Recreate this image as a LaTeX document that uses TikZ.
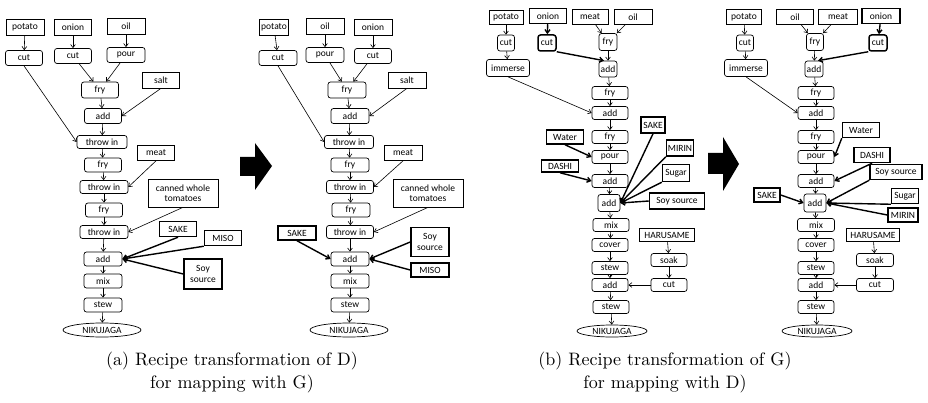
\documentclass[tikz,border=0pt]{standalone}
\usepackage{fontspec}
\newfontfamily\boxfont{Carlito}
\newfontfamily\capfont{lmroman10-regular}[Extension=.otf]
\usetikzlibrary{arrows.meta,shapes.geometric}
\begin{document}
\begin{tikzpicture}[x=1pt,y=-1pt,
 wh/.style 2 args={minimum width=#1pt,minimum height=#2pt},
 boxbase/.style={draw,line width=0.7pt,inner sep=0pt,font=\boxfont\fontsize{9.5}{10.5}\selectfont},
 ing/.style={boxbase},
 stp/.style={boxbase,rounded corners=2.5pt},
 bing/.style={boxbase,line width=1.5pt},
 bstp/.style={stp,line width=1.5pt},
 dish/.style={boxbase,ellipse},
 fb/.style={font=\boxfont\fontsize{10.5}{11}\selectfont},
 arr/.style={-{Straight Barb[length=3.2pt,width=4.8pt]},line width=0.6pt},
 barr/.style={-{Straight Barb[length=3.5pt,width=5pt]},line width=1.4pt},
 captxt/.style={font=\capfont\fontsize{18}{22}\selectfont,inner sep=0pt}
]
\useasboundingbox (0,0) rectangle (928,403);
%================ (a) ================
\node[ing,wh={38}{16}] (a1) at (25,27) {potato};
\node[ing,wh={37}{16}] (a2) at (73,27) {onion};
\node[ing,wh={38}{16}] (a3) at (126,26) {oil};
\node[stp,wh={37}{15}] (a4) at (24,58) {cut};
\node[stp,wh={37}{15}] (a5) at (73,56) {cut};
\node[stp,wh={38}{15}] (a6) at (126,55) {pour};
\node[stp,wh={37}{16}] (a7) at (100,90) {fry};
\node[ing,wh={37}{16}] (a8) at (161,80) {salt};
\node[stp,wh={37}{15}] (a9) at (103,116) {add};
\node[stp,wh={50}{13}] (a10) at (102,142) {throw in};
\node[ing,wh={37}{15}] (a11) at (156,153) {meat};
\node[stp,wh={37}{14}] (a12) at (103,165) {fry};
\node[stp,wh={48}{13}] (a13) at (104,187) {throw in};
\node[ing,wh={70}{28},align=center] (a14) at (183,193) {canned whole\\tomatoes};
\node[stp,wh={37}{14}] (a15) at (104,210) {fry};
\node[stp,wh={48}{13}] (a16) at (104,232) {throw in};
\node[bing,wh={37}{15}] (a17) at (178,229) {SAKE};
\node[bing,wh={37}{15}] (a18) at (223,238) {MISO};
\node[stp,wh={38}{14}] (a19) at (103,259) {add};
\node[bing,wh={38}{30},align=center] (a20) at (203,274) {Soy\\source};
\node[stp,wh={38}{14}] (a21) at (103,281) {mix};
\node[stp,wh={38}{14}] (a22) at (103,305) {stew};
\node[dish,wh={78}{14}] (a23) at (102,330) {NIKUJAGA};
\draw[arr] (a1)--(a4);
\draw[arr] (a2)--(a5);
\draw[arr] (a3)--(a6);
\draw[arr] (a5)--(a7);
\draw[arr] (a6)--(a7);
\draw[arr] (a7)--(a9);
\draw[arr] (a8.south)--(a9.east);
\draw[arr] (a9)--(a10);
\draw[arr] (a4.south)--(a10.west);
\draw[arr] (a10)--(a12);
\draw[arr] (a11.south)--(a13.east);
\draw[arr] (a12)--(a13);
\draw[arr] (a13)--(a15);
\draw[arr] (a15)--(a16);
\draw[arr] (a14.south)--(a16.east);
\draw[arr] (a16)--(a19);
\draw[arr] (a19)--(a21);
\draw[arr] (a21)--(a22);
\draw[arr] (a22)--(a23);
\draw[barr] (a17.south)--(a19.east);
\draw[barr] (a18.south west)--(a19.east);
\draw[barr] (a20.west)--(a19.east);
%================ (a') ================
\node[ing,wh={29}{16}] (b1) at (274,27) {potato};
\node[ing,wh={38}{16}] (b2) at (325,26) {oil};
\node[ing,wh={38}{16}] (b3) at (373,27) {onion};
\node[stp,wh={38}{15}] (b4) at (278,58) {cut};
\node[stp,wh={38}{15}] (b5) at (325,55) {pour};
\node[stp,wh={37}{15}] (b6) at (373,56) {cut};
\node[stp,wh={38}{16}] (b7) at (347,90) {fry};
\node[ing,wh={38}{16}] (b8) at (407,80) {salt};
\node[stp,wh={38}{15}] (b9) at (350,116) {add};
\node[stp,wh={49}{13}] (b10) at (349,142) {throw in};
\node[ing,wh={38}{15}] (b11) at (403,153) {meat};
\node[stp,wh={38}{14}] (b12) at (350,165) {fry};
\node[stp,wh={47}{13}] (b13) at (350,187) {throw in};
\node[ing,wh={70}{28},align=center] (b14) at (428,193) {canned whole\\tomatoes};
\node[stp,wh={38}{14}] (b15) at (351,210) {fry};
\node[stp,wh={47}{13}] (b16) at (350,232) {throw in};
\node[bing,wh={38}{14}] (b17) at (297,233) {SAKE};
\node[bing,wh={38}{29},align=center] (b18) at (430,242) {Soy\\source};
\node[bing,wh={38}{14}] (b19) at (430,270) {MISO};
\node[stp,wh={38}{14}] (b20) at (350,259) {add};
\node[stp,wh={38}{14}] (b21) at (350,281) {mix};
\node[stp,wh={38}{14}] (b22) at (350,305) {stew};
\node[dish,wh={78}{14}] (b23) at (349,330) {NIKUJAGA};
\draw[arr] (b1)--(b4);
\draw[arr] (b2)--(b5);
\draw[arr] (b3)--(b6);
\draw[arr] (b5)--(b7);
\draw[arr] (b6)--(b7);
\draw[arr] (b7)--(b9);
\draw[arr] (b8.south)--(b9.east);
\draw[arr] (b9)--(b10);
\draw[arr] (b4.south)--(b10.west);
\draw[arr] (b10)--(b12);
\draw[arr] (b11.south)--(b13.east);
\draw[arr] (b12)--(b13);
\draw[arr] (b13)--(b15);
\draw[arr] (b15)--(b16);
\draw[arr] (b14.south)--(b16.east);
\draw[arr] (b16)--(b20);
\draw[arr] (b20)--(b21);
\draw[arr] (b21)--(b22);
\draw[arr] (b22)--(b23);
\draw[barr] (b17.south)--(b20.west);
\draw[barr] (b18.west)--(b20.east);
\draw[barr] (b19.west)--(b20.east);
%================ big arrows ================
\fill[black] (240,157) -- (255,157) -- (255,143) -- (272,166) -- (255,190) -- (255,176) -- (240,176) -- cycle;
\fill[black] (708,153) -- (723,153) -- (723,137) -- (739,164) -- (723,191) -- (723,174) -- (708,174) -- cycle;
%================ (b) ================
\begin{scope}[every node/.append style={fb}]
\node[ing,wh={34}{14}] (c1) at (506,17) {potato};
\node[bing,wh={37}{15}] (c2) at (548,16) {onion};
\node[ing,wh={36}{15}] (c3) at (590,17) {meat};
\node[ing,wh={38}{15}] (c4) at (633,17) {oil};
\node[stp,wh={17}{16}] (c5) at (506,43) {cut};
\node[bstp,wh={18}{16}] (c6) at (547,43) {cut};
\node[stp,wh={18}{17}] (c7) at (608,42) {fry};
\node[stp,wh={43}{17}] (c8) at (508,68) {immerse};
\node[stp,wh={18}{16}] (c9) at (608,69) {add};
\node[stp,wh={36}{13}] (c10) at (610,93) {fry};
\node[stp,wh={36}{13}] (c11) at (610,113) {add};
\node[bing,wh={24}{16}] (c12) at (653,125) {SAKE};
\node[bing,wh={37}{14}] (c13) at (565,137) {Water};
\node[stp,wh={36}{13}] (c14) at (610,137) {fry};
\node[bing,wh={27}{16}] (c15) at (680,148) {MIRIN};
\node[stp,wh={36}{13}] (c16) at (610,157) {pour};
\node[bing,wh={37}{12}] (c17) at (560,166) {DASHI};
\node[bing,wh={27}{17}] (c18) at (676,173) {Sugar};
\node[stp,wh={36}{13}] (c19) at (610,181) {add};
\node[stp,wh={22}{17}] (c20) at (609,203) {add};
\node[bing,wh={55}{16}] (c21) at (677,201) {Soy source};
\node[stp,wh={36}{13}] (c22) at (611,225) {mix};
\node[stp,wh={36}{13}] (c23) at (610,245) {cover};
\node[ing,wh={55}{13}] (c24) at (667,235) {HARUSAME};
\node[stp,wh={36}{13}] (c25) at (669,260) {soak};
\node[stp,wh={36}{13}] (c26) at (610,268) {stew};
\node[stp,wh={36}{13}] (c27) at (669,285) {cut};
\node[stp,wh={36}{13}] (c28) at (610,285) {add};
\node[stp,wh={36}{13}] (c29) at (611,307) {stew};
\node[dish,wh={70}{12}] (c30) at (612,331) {NIKUJAGA};
\end{scope}
\draw[arr] (c1)--(c5);
\draw[arr] (c5)--(c8);
\draw[barr] (c2)--(c6);
\draw[arr] (c3)--(c7);
\draw[arr] (c4)--(c7);
\draw[barr] (c6.south east)--([xshift=-4pt]c9.north);
\draw[arr] (c7)--(c9);
\draw[arr] (c9)--(c10);
\draw[arr] (c10)--(c11);
\draw[arr] (c8.south)--(c11.west);
\draw[arr] (c11)--(c14);
\draw[arr] (c14)--(c16);
\draw[barr] (c13.south)--(c16.west);
\draw[arr] (c16)--(c19);
\draw[barr] (c17.south)--(c19.west);
\draw[arr] (c19)--(c20);
\draw[barr] (c12.south)--(c20.east);
\draw[barr] (c15.south west)--(c20.east);
\draw[barr] (c18.south west)--(c20.east);
\draw[barr] (c21.west)--(c20.east);
\draw[arr] (c20)--(c22);
\draw[arr] (c22)--(c23);
\draw[arr] (c23)--(c26);
\draw[arr] (c26)--(c28);
\draw[arr] (c24)--(c25);
\draw[arr] (c25)--(c27);
\draw[arr] (c27.west)--(c28.east);
\draw[arr] (c28)--(c29);
\draw[arr] (c29)--(c30);
%================ (b') ================
\begin{scope}[every node/.append style={fb}]
\node[ing,wh={35}{15}] (d1) at (744,17) {potato};
\node[ing,wh={37}{15}] (d2) at (795,17) {oil};
\node[ing,wh={39}{15}] (d3) at (838,17) {meat};
\node[bing,wh={38}{15}] (d4) at (881,16) {onion};
\node[stp,wh={17}{16}] (d5) at (745,43) {cut};
\node[stp,wh={17}{17}] (d6) at (815,42) {fry};
\node[bstp,wh={18}{16}] (d7) at (878,43) {cut};
\node[stp,wh={43}{17}] (d8) at (746,68) {immerse};
\node[stp,wh={18}{16}] (d9) at (814,69) {add};
\node[stp,wh={36}{13}] (d10) at (816,93) {fry};
\node[stp,wh={36}{13}] (d11) at (816,113) {add};
\node[stp,wh={36}{13}] (d12) at (816,137) {fry};
\node[bing,wh={37}{15}] (d13) at (861,130) {Water};
\node[stp,wh={36}{13}] (d14) at (816,157) {pour};
\node[bing,wh={36}{15}] (d15) at (872,155) {DASHI};
\node[bing,wh={52}{15}] (d16) at (896,172) {Soy source};
\node[stp,wh={36}{13}] (d17) at (816,181) {add};
\node[bing,wh={26}{14}] (d18) at (767,195) {SAKE};
\node[stp,wh={22}{18}] (d19) at (815,203) {add};
\node[bing,wh={27}{15}] (d20) at (905,196) {Sugar};
\node[bing,wh={30}{14}] (d21) at (903,215) {MIRIN};
\node[stp,wh={37}{13}] (d22) at (816,225) {mix};
\node[ing,wh={53}{13}] (d23) at (873,235) {HARUSAME};
\node[stp,wh={36}{13}] (d24) at (816,245) {cover};
\node[stp,wh={37}{13}] (d25) at (875,260) {soak};
\node[stp,wh={36}{13}] (d26) at (816,268) {stew};
\node[stp,wh={37}{13}] (d27) at (875,285) {cut};
\node[stp,wh={36}{13}] (d28) at (816,285) {add};
\node[stp,wh={36}{13}] (d29) at (816,307) {stew};
\node[dish,wh={70}{12}] (d30) at (817,331) {NIKUJAGA};
\end{scope}
\draw[arr] (d1)--(d5);
\draw[arr] (d5)--(d8);
\draw[arr] (d2)--(d6);
\draw[arr] (d3)--(d6);
\draw[barr] (d4)--(d7);
\draw[barr] (d7.south west)--([xshift=4pt]d9.north);
\draw[arr] (d6)--(d9);
\draw[arr] (d9)--(d10);
\draw[arr] (d10)--(d11);
\draw[arr] (d8.south)--(d11.west);
\draw[arr] (d11)--(d12);
\draw[arr] (d12)--(d14);
\draw[barr] (d13.south west)--(d14.east);
\draw[arr] (d14)--(d17);
\draw[barr] (d15.south)--(d17.east);
\draw[arr] (d17)--(d19);
\draw[barr] (d18.east)--(d19.west);
\draw[barr] (d16.south west)--(d19.east);
\draw[barr] (d20.south west)--(d19.east);
\draw[barr] (d21.west)--(d19.east);
\draw[arr] (d19)--(d22);
\draw[arr] (d22)--(d24);
\draw[arr] (d24)--(d26);
\draw[arr] (d26)--(d28);
\draw[arr] (d23)--(d25);
\draw[arr] (d25)--(d27);
\draw[arr] (d27.west)--(d28.east);
\draw[arr] (d28)--(d29);
\draw[arr] (d29)--(d30);
%================ captions ================
\node[captxt] (capA1) at (232,361) {(a) Recipe transformation of D)};
\node[captxt] (capA2) at (232,384) {for mapping with G)};
\node[captxt] (capB1) at (665,361) {(b) Recipe transformation of G)};
\node[captxt] (capB2) at (665,384) {for mapping with D)};
\end{tikzpicture}
\end{document}
